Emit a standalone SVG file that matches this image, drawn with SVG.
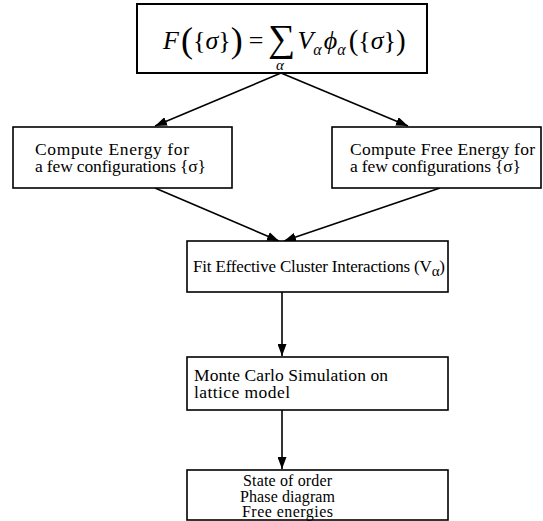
<svg xmlns="http://www.w3.org/2000/svg" width="543" height="521" viewBox="0 0 543 521">
<style>
.box{fill:#fff;stroke:#000;stroke-width:1.6}
.t{font-family:"Liberation Serif","Times New Roman",serif;font-size:17.5px;fill:#000}
.s{font-size:16px}
.m{font-family:"Liberation Serif","Times New Roman",serif;font-size:26px;fill:#000}
.i{font-style:italic}
.c{stroke:#000;stroke-width:1.6;fill:none}
</style>
<defs>
<marker id="ah" markerUnits="userSpaceOnUse" markerWidth="13" markerHeight="9" refX="12" refY="4.5" orient="auto">
<path d="M0,0 L12,4.5 L0,9 z" fill="#000"/>
</marker>
</defs>
<rect width="543" height="521" fill="#fff"/>
<g id="connectors">
<line class="c" x1="281" y1="73" x2="155" y2="126" marker-end="url(#ah)"/>
<line class="c" x1="281" y1="73" x2="408" y2="126" marker-end="url(#ah)"/>
<line class="c" x1="155" y1="188" x2="279" y2="241" marker-end="url(#ah)"/>
<line class="c" x1="440" y1="188" x2="284" y2="241" marker-end="url(#ah)"/>
<line class="c" x1="282" y1="292" x2="282" y2="356" marker-end="url(#ah)"/>
<line class="c" x1="282" y1="410" x2="282" y2="469" marker-end="url(#ah)"/>
</g>
<g id="formula">
<rect class="box" x="137" y="4" width="290" height="69" style="stroke-width:2"/>
<text class="m" x="163" y="49"><tspan class="i">F</tspan><tspan dx="2" dy="3" font-size="36">(</tspan><tspan dy="-3">{</tspan><tspan class="i">σ</tspan><tspan>}</tspan><tspan dy="3" font-size="36">)</tspan><tspan dx="6" dy="-3">=</tspan><tspan dx="5" dy="2" font-size="38">∑</tspan><tspan class="i" dx="2" dy="-2">V</tspan><tspan class="i" dy="6" font-size="16">α</tspan><tspan class="i" dx="2" dy="-6">ϕ</tspan><tspan class="i" dy="6" font-size="16">α</tspan><tspan dx="3" dy="-5" font-size="29">(</tspan><tspan dy="-1">{</tspan><tspan class="i">σ</tspan><tspan>}</tspan><tspan dy="1" font-size="29">)</tspan></text>
<text class="m i" x="276" y="70" style="font-size:15px">α</text>
</g>
<g id="energy">
<rect class="box" x="13" y="127" width="219" height="61"/>
<text class="t" x="35" y="155" textLength="154" lengthAdjust="spacing">Compute Energy for</text>
<text class="t" x="35" y="172" textLength="171" lengthAdjust="spacing">a few configurations {σ}</text>
</g>
<g id="free-energy">
<rect class="box" x="332" y="127" width="209" height="61"/>
<text class="t" x="350" y="155" textLength="185" lengthAdjust="spacing">Compute Free Energy for</text>
<text class="t" x="350" y="172" textLength="171" lengthAdjust="spacing">a few configurations {σ}</text>
</g>
<g id="fit">
<rect class="box" x="187" y="241" width="261" height="51"/>
<text class="t" x="193" y="272" style="font-size:17px" textLength="252" lengthAdjust="spacing">Fit Effective Cluster Interactions (V<tspan dy="4" font-size="15">α</tspan><tspan dy="-4">)</tspan></text>
</g>
<g id="monte-carlo">
<rect class="box" x="187" y="357" width="261" height="53"/>
<text class="t" x="194" y="381" textLength="194" lengthAdjust="spacing">Monte Carlo Simulation on</text>
<text class="t" x="194" y="398" textLength="96" lengthAdjust="spacing">lattice model</text>
</g>
<g id="results">
<rect class="box" x="187" y="470" width="261" height="50"/>
<text class="t s" x="243" y="486" textLength="89" lengthAdjust="spacing">State of order</text>
<text class="t s" x="240" y="502" textLength="95" lengthAdjust="spacing">Phase diagram</text>
<text class="t s" x="242" y="517" textLength="91" lengthAdjust="spacing">Free energies</text>
</g>
</svg>
